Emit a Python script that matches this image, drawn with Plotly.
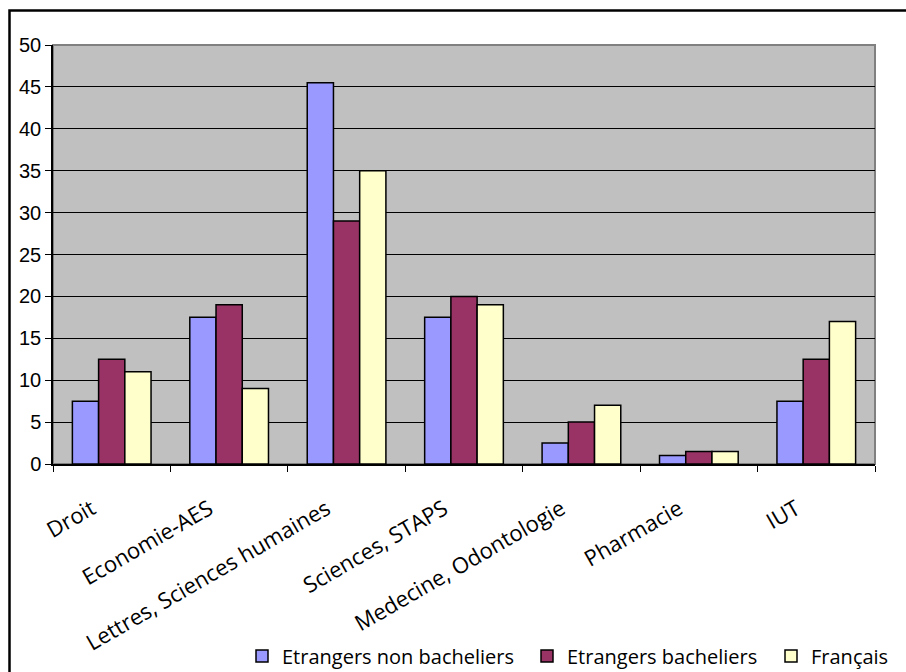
import plotly.graph_objects as go

# Filières and percentage of students per group
categories = ["Droit", "Economie-AES", "Lettres, Sciences humaines", "Sciences, STAPS",
              "Medecine, Odontologie", "Pharmacie", "IUT"]
etrangers_non_bacheliers = [7.5, 17.5, 45.5, 17.5, 2.5, 1, 7.5]
etrangers_bacheliers = [12.5, 19, 29, 20, 5, 1.5, 12.5]
francais = [11, 9, 35, 19, 7, 1.5, 17]
y_ticks = [0, 5, 10, 15, 20, 25, 30, 35, 40, 45, 50]

series = [
    ("Etrangers non bacheliers", etrangers_non_bacheliers, "#9999FF", "legend", 242),
    ("Etrangers bacheliers", etrangers_bacheliers, "#993366", "legend2", 527),
    ("Français", francais, "#FFFFCC", "legend3", 771),
]

W, H = 906, 672
ml, mr, mt, mb = 53, 31, 45, 208
pw, ph = W - ml - mr, H - mt - mb

def px_x(p):
    return (p - ml) / pw

def px_y(p):
    return 1 - (p - mt) / ph

fig = go.Figure()
legend_layout = {}
for name, vals, color, leg, lx in series:
    fig.add_trace(go.Bar(
        x=categories, y=vals, name=name, legend=leg,
        marker=dict(color=color, line=dict(color="black", width=1.5)),
    ))
    # one legend box per series so each entry sits at its own spot
    legend_layout[leg] = dict(
        orientation="h", x=px_x(lx), y=px_y(656), xanchor="left", yanchor="middle",
        font=dict(family="Open Sans", size=20, color="black"),
        itemwidth=30, bgcolor="rgba(0,0,0,0)",
    )

fig.update_layout(
    width=W, height=H,
    margin=dict(l=ml, r=mr, t=mt, b=mb, autoexpand=False),
    paper_bgcolor="white",
    plot_bgcolor="#C0C0C0",
    barmode="group", bargap=0.33, bargroupgap=0,
    showlegend=True,
    font=dict(family="Liberation Sans", color="black"),
    shapes=[
        # plot-area border
        dict(type="rect", xref="paper", yref="paper", x0=0, x1=1, y0=0, y1=1,
             line=dict(color="#808080", width=2), layer="below"),
        # outer chart frame
        dict(type="path", xref="paper", yref="paper",
             path=f"M {px_x(910)} {px_y(10.5)} L {px_x(9.5)} {px_y(10.5)} L {px_x(9.5)} {px_y(680)}",
             line=dict(color="black", width=2.5)),
    ],
    **legend_layout,
)

fig.update_xaxes(
    type="category",
    tickangle=-30,
    tickfont=dict(family="Open Sans", size=22, color="black"),
    ticks="outside", tickson="boundaries", ticklen=6, tickcolor="black",
    ticklabelstandoff=22, ticklabelshift=-20, automargin=False,
    showline=True, linecolor="black", linewidth=1.5,
    showgrid=False,
)
fig.update_yaxes(
    range=[0, 50], tickvals=y_ticks,
    tickfont=dict(family="Liberation Sans", size=20, color="black"),
    ticks="outside", ticklen=6, tickcolor="black", automargin=False,
    showline=True, linecolor="black", linewidth=1.5,
    showgrid=True, gridcolor="black", gridwidth=1,
    zeroline=False,
)

fig.write_html("out.html")
